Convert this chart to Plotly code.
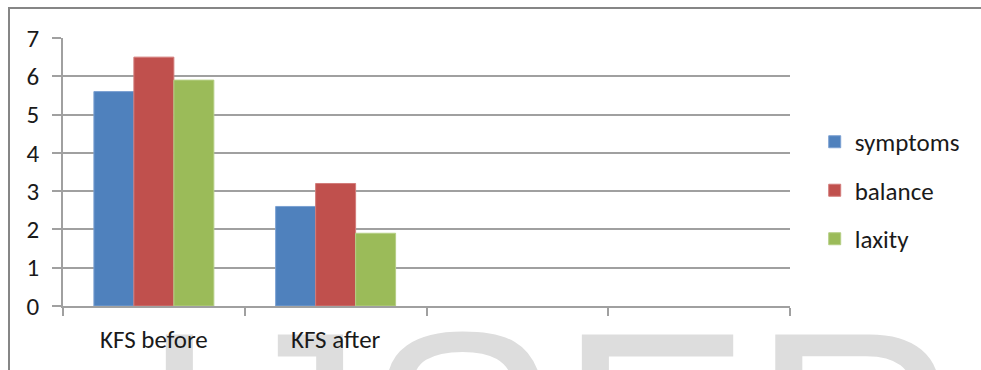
import plotly.graph_objects as go

# Categories on the x axis (the last two slots are left empty)
categories = ["KFS before", "KFS after", " ", "  "]
measured = ["KFS before", "KFS after"]

# Scores per measure
symptoms = [5.6, 2.6]
balance = [6.5, 3.2]
laxity = [5.9, 1.9]

series_names = ["symptoms", "balance", "laxity"]
series_values = [symptoms, balance, laxity]
fill_colors = ["#4F81BD", "#C0504D", "#9BBB59"]
edge_colors = ["#7BA0D2", "#D27C7A", "#B5CE85"]

FONT = "Carlito, Lato, 'Liberation Sans', sans-serif"
GRID = "#A0A0A0"
FS = 25

fig = go.Figure()

for name, vals, fc, ec in zip(series_names, series_values, fill_colors, edge_colors):
    fig.add_trace(go.Bar(
        name=name, x=measured, y=vals,
        marker=dict(color=fc, line=dict(color=ec, width=1)),
        legendgroup=name,
    ))

# Light watermark lettering along the bottom, drawn under the axis labels.
# The empty first line pushes "IJSER" below the anchor point.
fig.add_trace(go.Scatter(
    x=[550], y=[273], mode="text", text=[" <br>IJSER"],
    textposition="middle center",
    textfont=dict(family="'Liberation Sans', Arial, sans-serif", size=290, color="#DDDDDD"),
    xaxis="x2", yaxis="y2", cliponaxis=False, showlegend=False, hoverinfo="skip",
))

fig.update_layout(
    width=981, height=370,
    margin=dict(l=63, r=191, t=38, b=64),
    paper_bgcolor="white", plot_bgcolor="white",
    font=dict(family=FONT, size=FS, color="#1A1A1A"),
    barmode="group", bargap=0.34, bargroupgap=0,
    showlegend=True,
    legend=dict(
        x=1.034, xanchor="left", y=0.431, yanchor="middle",
        traceorder="grouped", tracegroupgap=13,
        font=dict(family=FONT, size=FS, color="#1A1A1A"),
        itemwidth=30, bgcolor="rgba(0,0,0,0)",
    ),
    xaxis=dict(
        type="category", categoryorder="array", categoryarray=categories,
        range=[-0.5, 3.5], tickson="boundaries",
        showgrid=False, showline=True, linecolor=GRID, linewidth=1.5,
        ticks="outside", ticklen=8, tickcolor=GRID, tickwidth=1.5,
        ticklabelstandoff=10, zeroline=False, fixedrange=True,
    ),
    yaxis=dict(
        range=[0, 7], dtick=1, tick0=0,
        showgrid=True, gridcolor=GRID, gridwidth=1.5,
        showline=True, linecolor=GRID, linewidth=1.5,
        ticks="outside", ticklen=9, tickcolor=GRID, tickwidth=1.5,
        ticklabelstandoff=8, zeroline=False, fixedrange=True,
    ),
    xaxis2=dict(overlaying="x", range=[63, 790], visible=False, fixedrange=True),
    yaxis2=dict(overlaying="y", range=[306, 38], visible=False, fixedrange=True),
    shapes=[dict(
        type="rect", xref="paper", yref="paper",
        x0=(9 - 63) / 727, x1=(995 - 63) / 727,
        y0=(306 - 390) / 268, y1=(306 - 8) / 268,
        line=dict(color="#868686", width=2), fillcolor="rgba(0,0,0,0)",
        layer="below",
    )],
)

fig.write_html("out.html")
